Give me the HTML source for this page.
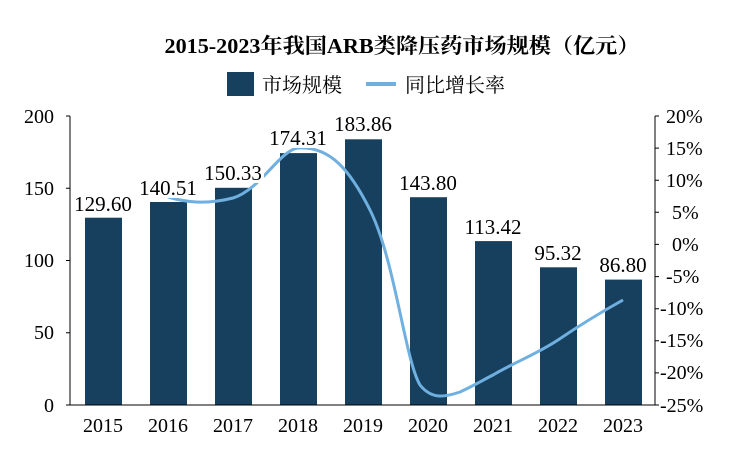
<!DOCTYPE html>
<html><head><meta charset="utf-8"><style>
body{margin:0;background:#fff}
svg text{font-family:"Liberation Serif","Noto Serif CJK SC",serif}
</style></head><body>
<svg width="748" height="460" xmlns="http://www.w3.org/2000/svg">
<text x="402" y="53" text-anchor="middle" font-size="21" font-weight="bold" fill="#000" textLength="475" lengthAdjust="spacingAndGlyphs">2015-2023年我国ARB类降压药市场规模（亿元）</text>
<rect x="227" y="72" width="27" height="24" fill="#17405f"/>
<text x="262" y="92" font-size="20" font-family="Noto Sans CJK SC,sans-serif" fill="#000">市场规模</text>
<line x1="366" y1="84" x2="396" y2="84" stroke="#6fb0e0" stroke-width="4"/>
<text x="405" y="92" font-size="20" font-family="Noto Sans CJK SC,sans-serif" fill="#000">同比增长率</text>
<g fill="#17405f">
<rect x="85" y="217.7" width="37" height="187.3"/>
<rect x="150" y="202" width="37" height="203"/>
<rect x="215" y="187.8" width="37" height="217.2"/>
<rect x="280" y="153.1" width="37" height="251.9"/>
<rect x="345" y="139.3" width="37" height="265.7"/>
<rect x="410" y="197.2" width="37" height="207.8"/>
<rect x="475" y="241.1" width="37" height="163.9"/>
<rect x="540" y="267.3" width="37" height="137.7"/>
<rect x="605" y="279.6" width="37" height="125.4"/>
</g>
<path d="M168,197 C185,202 205,205 233,198 C260,190 280,150 298,148 C330,146 350,170 370,210 C395,260 405,360 420,385 C432,400 445,397 460,392 C475,385 483,380 493,375 C515,362 535,355 558,340 C580,325 605,310 623,300" fill="none" stroke="#6fb0e0" stroke-width="3"/>
<g font-size="21" text-anchor="middle" fill="#000">
<rect x="72" y="192" width="62" height="22" fill="#fff"/><text x="103" y="211">129.60</text>
<rect x="137" y="176" width="62" height="22" fill="#fff"/><text x="168" y="195">140.51</text>
<rect x="202" y="161" width="62" height="22" fill="#fff"/><text x="233" y="180">150.33</text>
<rect x="267" y="126" width="62" height="22" fill="#fff"/><text x="298" y="145">174.31</text>
<rect x="332" y="112" width="62" height="22" fill="#fff"/><text x="363" y="131">183.86</text>
<text x="428" y="190">143.80</text>
<text x="493" y="234">113.42</text>
<text x="558" y="260">95.32</text>
<text x="623" y="272">86.80</text>
</g>
<g stroke="#000" stroke-width="1" fill="none">
<path d="M70,116 V405 H655 V116"/>
<path d="M66,116H70M66,188.25H70M66,260.5H70M66,332.75H70M66,405H70"/>
<path d="M655,116h4M655,148.1h4M655,180.2h4M655,212.3h4M655,244.4h4M655,276.6h4M655,308.7h4M655,340.8h4M655,372.9h4M655,405h4"/>
</g>
<g font-size="20" text-anchor="end" fill="#000">
<text x="54" y="123">200</text><text x="54" y="195">150</text><text x="54" y="267">100</text><text x="54" y="339">50</text><text x="54" y="412">0</text>
</g>
<g font-size="20" fill="#000">
<text x="666" y="123">20%</text><text x="666" y="155">15%</text><text x="666" y="187">10%</text><text x="672" y="219">5%</text><text x="672" y="251">0%</text><text x="666" y="283">-5%</text><text x="660" y="315">-10%</text><text x="660" y="347">-15%</text><text x="660" y="379">-20%</text><text x="660" y="412">-25%</text>
</g>
<g font-size="20" text-anchor="middle" fill="#000">
<text x="103" y="432">2015</text><text x="168" y="432">2016</text><text x="233" y="432">2017</text><text x="298" y="432">2018</text><text x="363" y="432">2019</text><text x="428" y="432">2020</text><text x="493" y="432">2021</text><text x="558" y="432">2022</text><text x="623" y="432">2023</text>
</g>
</svg>
</body></html>
